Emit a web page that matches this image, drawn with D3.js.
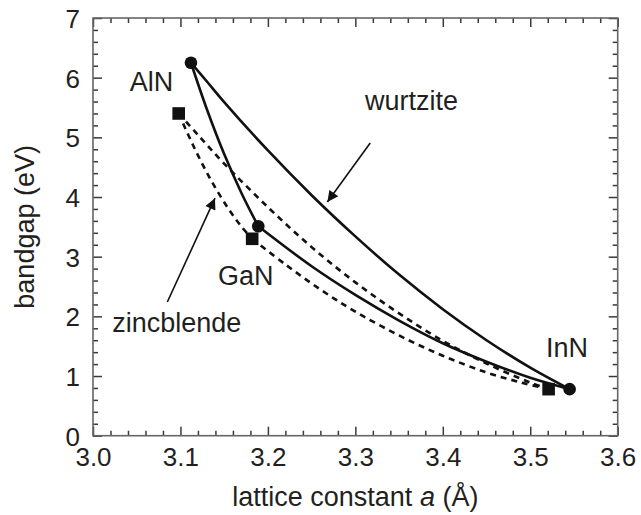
<!DOCTYPE html>
<html><head><meta charset="utf-8">
<script src="https://cdn.jsdelivr.net/npm/d3@7"></script>
<style>
html,body{margin:0;padding:0;background:#fff;}
svg text{font-family:"Liberation Sans",Arial,Helvetica,sans-serif;fill:#231f20;}
</style></head>
<body><svg id="chart" width="641" height="515"></svg>
<script>
// ---- data (lattice constant a in Å, bandgap in eV) ----
const xTicks = [3.0, 3.1, 3.2, 3.3, 3.4, 3.5, 3.6];
const yTicks = [0, 1, 2, 3, 4, 5, 6, 7];
const xTickLabels = ["3.0", "3.1", "3.2", "3.3", "3.4", "3.5", "3.6"];
const yTickLabels = ["0", "1", "2", "3", "4", "5", "6", "7"];

// endpoint compounds
const wurtziteNames = ["AlN", "GaN", "InN"];
const wurtziteA  = [3.112, 3.189, 3.545];
const wurtziteEg = [6.25, 3.51, 0.78];
const zincblendeNames = ["AlN", "GaN", "InN"];
const zincblendeA  = [3.098, 3.182, 3.521];
const zincblendeEg = [5.40, 3.30, 0.78];

// wurtzite alloy curves (solid)
const wzAlInN_a  = [3.112, 3.13, 3.15, 3.20, 3.25, 3.30, 3.35, 3.40, 3.45, 3.50, 3.545];
const wzAlInN_eg = [6.25, 5.94, 5.59, 4.78, 4.03, 3.34, 2.70, 2.12, 1.60, 1.14, 0.78];
const wzAlGaN_a  = [3.112, 3.13, 3.15, 3.17, 3.189];
const wzAlGaN_eg = [6.25, 5.48, 4.72, 4.06, 3.51];
const wzGaInN_a  = [3.189, 3.25, 3.30, 3.35, 3.40, 3.45, 3.50, 3.545];
const wzGaInN_eg = [3.51, 2.84, 2.36, 1.93, 1.55, 1.24, 0.97, 0.78];

// zincblende alloy curves (dashed)
const zbAlInN_a  = [3.098, 3.12, 3.15, 3.20, 3.25, 3.30, 3.35, 3.40, 3.45, 3.50, 3.521];
const zbAlInN_eg = [5.40, 5.04, 4.56, 3.83, 3.16, 2.57, 2.05, 1.59, 1.21, 0.89, 0.78];
const zbAlGaN_a  = [3.098, 3.115, 3.135, 3.155, 3.17, 3.182];
const zbAlGaN_eg = [5.40, 4.85, 4.28, 3.80, 3.50, 3.30];
const zbGaInN_a  = [3.182, 3.22, 3.26, 3.30, 3.35, 3.40, 3.45, 3.49, 3.521];
const zbGaInN_eg = [3.30, 2.87, 2.45, 2.08, 1.68, 1.34, 1.06, 0.89, 0.78];

// annotations: text labels [a, Eg] of left baseline
const labelTexts = ["AlN", "wurtzite", "GaN", "zincblende", "InN"];
const labelA  = [3.042, 3.311, 3.143, 3.022, 3.518];
const labelEg = [5.78, 5.46, 2.52, 1.74, 1.32];
// arrows: tail -> tip
const arrowTailA  = [3.317, 3.085];
const arrowTailEg = [4.905, 2.24];
const arrowTipA   = [3.268, 3.1395];
const arrowTipEg  = [3.916, 3.98];

// ---- layout ----
const svg = d3.select("#chart");
const m = {left: 93, top: 18, right: 23.3, bottom: 79.3};
const W = 641 - m.left - m.right, H = 515 - m.top - m.bottom;
const x = d3.scaleLinear().domain([3.0, 3.6]).range([0, W]);
const y = d3.scaleLinear().domain([0, 7]).range([H, 0]);
const g = svg.append("g").attr("transform", `translate(${m.left},${m.top})`);

const xMinor = d3.range(0, 31).map(i => 3.0 + i * 0.02).filter(v => !xTicks.some(t => Math.abs(t - v) < 1e-6));
const yMinor = d3.range(0, 36).map(i => i * 0.2).filter(v => !yTicks.some(t => Math.abs(t - v) < 1e-6));

function styleAxis(sel) {
  sel.select(".domain").remove();
  sel.selectAll("line").attr("stroke", "#3a3a3a").attr("stroke-width", 1.5);
}
// major & minor inward ticks on all four sides
[[d3.axisBottom, 0, "x"], [d3.axisTop, 0, "x"], [d3.axisLeft, 0, "y"], [d3.axisRight, 0, "y"]].forEach(([fn, _, dim]) => {
  const sc = dim === "x" ? x : y;
  const tr = fn === d3.axisBottom ? `translate(0,${H})` : fn === d3.axisRight ? `translate(${W},0)` : null;
  const maj = g.append("g").call(fn(sc).tickValues(dim === "x" ? xTicks : yTicks).tickSize(-9).tickFormat(""));
  const min = g.append("g").call(fn(sc).tickValues(dim === "x" ? xMinor : yMinor).tickSize(-5).tickFormat(""));
  if (tr) { maj.attr("transform", tr); min.attr("transform", tr); }
  styleAxis(maj); styleAxis(min);
});

// tick labels
const xl = g.append("g").attr("transform", `translate(0,${H})`)
  .call(d3.axisBottom(x).tickValues(xTicks).tickSize(0).tickPadding(12).tickFormat((d, i) => xTickLabels[i]));
xl.select(".domain").remove();
xl.selectAll("text").attr("font-size", 26).style("font-family", null);
const yl = g.append("g")
  .call(d3.axisLeft(y).tickValues(yTicks).tickSize(0).tickPadding(13).tickFormat((d, i) => yTickLabels[i]));
yl.select(".domain").remove();
yl.selectAll("text").attr("font-size", 26).attr("dy", "0.36em").style("font-family", null);
svg.selectAll(".tick text").attr("fill", "#231f20");

// frame
g.append("rect").attr("x", 0).attr("y", 0).attr("width", W).attr("height", H)
  .attr("fill", "none").attr("stroke", "#666").attr("stroke-width", 1.6);

// axis titles
const xt = svg.append("text").attr("x", m.left + W / 2).attr("y", 506)
  .attr("text-anchor", "middle").attr("font-size", 27);
xt.append("tspan").text("lattice constant ");
xt.append("tspan").attr("font-style", "italic").text("a");
xt.append("tspan").text(" (Å)");
svg.append("text").attr("transform", `translate(34,${m.top + H / 2}) rotate(-90)`)
  .attr("text-anchor", "middle").attr("font-size", 27).text("bandgap (eV)");

// curves
const line = d3.line().x(d => x(d[0])).y(d => y(d[1])).curve(d3.curveCatmullRom.alpha(0.5));
const zip = (a, b) => a.map((v, i) => [v, b[i]]);
const solid = [[wzAlInN_a, wzAlInN_eg], [wzAlGaN_a, wzAlGaN_eg], [wzGaInN_a, wzGaInN_eg]];
const dashed = [[zbAlInN_a, zbAlInN_eg], [zbAlGaN_a, zbAlGaN_eg], [zbGaInN_a, zbGaInN_eg]];
solid.forEach(([a, e]) => g.append("path").attr("d", line(zip(a, e)))
  .attr("fill", "none").attr("stroke", "#111").attr("stroke-width", 2.6));
dashed.forEach(([a, e]) => g.append("path").attr("d", line(zip(a, e)))
  .attr("fill", "none").attr("stroke", "#111").attr("stroke-width", 2.6).attr("stroke-dasharray", "6,5"));

// markers
g.selectAll("circle.wz").data(zip(wurtziteA, wurtziteEg)).enter().append("circle")
  .attr("cx", d => x(d[0])).attr("cy", d => y(d[1])).attr("r", 6.3).attr("fill", "#111");
const s = 12.6;
g.selectAll("rect.zb").data(zip(zincblendeA, zincblendeEg)).enter().append("rect")
  .attr("x", d => x(d[0]) - s / 2).attr("y", d => y(d[1]) - s / 2).attr("width", s).attr("height", s).attr("fill", "#111");

// labels
labelTexts.forEach((t, i) => g.append("text").attr("x", x(labelA[i])).attr("y", y(labelEg[i]))
  .attr("font-size", 27).text(t));

// arrows
svg.append("defs").append("marker").attr("id", "ah").attr("viewBox", "0 0 10 10")
  .attr("refX", 10).attr("refY", 5).attr("markerWidth", 16).attr("markerHeight", 11)
  .attr("markerUnits", "userSpaceOnUse").attr("orient", "auto")
  .append("path").attr("d", "M0,0 L10,5 L0,10 Z").attr("fill", "#111");
arrowTailA.forEach((a, i) => g.append("line")
  .attr("x1", x(a)).attr("y1", y(arrowTailEg[i])).attr("x2", x(arrowTipA[i])).attr("y2", y(arrowTipEg[i]))
  .attr("stroke", "#111").attr("stroke-width", 1.6).attr("marker-end", "url(#ah)"));
</script></body></html>
